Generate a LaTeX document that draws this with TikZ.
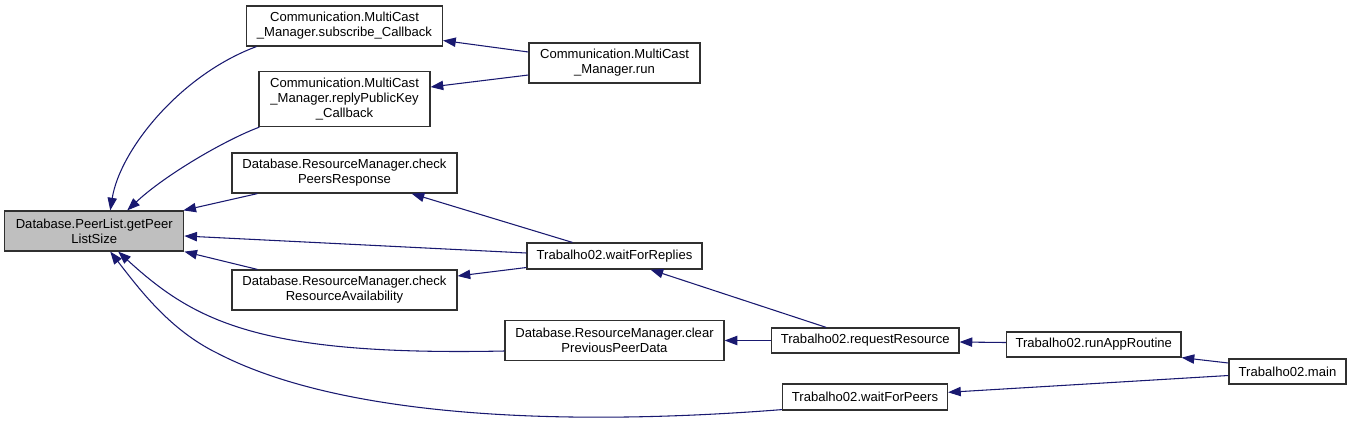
\documentclass[tikz,border=0pt]{standalone}
\usepackage{fontspec}
\setmainfont{Liberation Sans}
\usetikzlibrary{arrows.meta,calc}
\definecolor{edgeblue}{HTML}{191970}
\definecolor{boxgray}{HTML}{BFBFBF}
\definecolor{boxline}{HTML}{303030}
\begin{document}
\begin{tikzpicture}[x=0.75pt,y=-0.75pt,
  box/.style={draw=boxline,line width=0.9pt,fill=white,inner sep=0pt,align=center,
    font=\fontsize{9.8}{11.25}\selectfont},
  edge/.style={draw=edgeblue,line width=0.8pt,-{Triangle[length=9.5pt,width=7pt]}}]
\useasboundingbox (0,0) rectangle (1352,426);
% nodes
\node[box,fill=boxgray,minimum width=134.25pt,minimum height=30pt] (gp) at (94.25,231) {Database.PeerList.getPeer\\ListSize};
\node[box,minimum width=147pt,minimum height=30pt] (sub) at (344.5,26) {Communication.MultiCast\\\_Manager.subscribe\_Callback};
\node[box,minimum width=128.25pt,minimum height=41.25pt] (rep) at (344.5,99) {Communication.MultiCast\\\_Manager.replyPublicKey\\\_Callback};
\node[box,minimum width=168.75pt,minimum height=30pt] (cpr) at (344.5,173) {Database.ResourceManager.check\\PeersResponse};
\node[box,minimum width=168.75pt,minimum height=30pt] (cra) at (344.5,290) {Database.ResourceManager.check\\ResourceAvailability};
\node[box,minimum width=128.25pt,minimum height=30pt] (run) at (614.5,63) {Communication.MultiCast\\\_Manager.run};
\node[box,minimum width=131.25pt,minimum height=19.5pt] (wfr) at (614.5,256) {Trabalho02.waitForReplies};
\node[box,minimum width=164.25pt,minimum height=30pt] (cpd) at (614.5,340.5) {Database.ResourceManager.clear\\PreviousPeerData};
\node[box,minimum width=140.6pt,minimum height=18.75pt] (rr) at (865.25,340.5) {Trabalho02.requestResource};
\node[box,minimum width=123.75pt,minimum height=19.5pt] (wfp) at (865,397) {Trabalho02.waitForPeers};
\node[box,minimum width=130.9pt,minimum height=18.75pt] (ra) at (1093.75,344.5) {Trabalho02.runAppRoutine};
\node[box,minimum width=87.75pt,minimum height=18.75pt] (mn) at (1287.5,371.5) {Trabalho02.main};
% edges
\draw[edge] ($(run.west)+(0,-11)$) -- ($(sub.east)+(0,14.5)$);
\draw[edge] ($(run.west)+(0,12)$) -- ($(rep.east)+(0,-12)$);
\draw[edge] ($(sub.south west)+(10.5,0)$) .. controls (180,75) and (120,150) .. ($(gp.north)+(16,0)$);
\draw[edge] ($(rep.south west)+(1,0)$) .. controls (225,140) and (165,175) .. ($(gp.north)+(33,0)$);
\draw[edge] ($(cpr.south west)+(26,0)$) -- ($(gp.north east)+(-1,0)$);
\draw[edge] ($(wfr.west)+(0,-3)$) -- ($(gp.east)+(0,5)$);
\draw[edge] ($(cra.north west)+(26,0)$) -- (gp.south east);
\draw[edge] ($(cpd.west)+(0,10.5)$) .. controls (260,356) and (195,322) .. ($(gp.south)+(24,0)$);
\draw[edge] ($(wfp.south west)+(0,-1)$) .. controls (560,427) and (340,417) .. (217,353) .. controls (170,330) and (140,290) .. ($(gp.south)+(16,0)$);
\draw[edge] ($(wfr.north west)+(46,0)$) -- ($(cpr.south east)+(-46,0)$);
\draw[edge] ($(wfr.west)+(0,11.5)$) -- ($(cra.east)+(0,-14)$);
\draw[edge] ($(rr.north)+(-39,0)$) -- ($(wfr.south)+(36,0)$);
\draw[edge] (rr.west) -- (cpd.east);
\draw[edge] ($(ra.west)+(0,-2)$) -- ($(rr.east)+(0,1.5)$);
\draw[edge] ($(mn.west)+(0,-8.5)$) -- (ra.south east);
\draw[edge] ($(mn.west)+(0,4)$) -- ($(wfp.east)+(0,-4.7)$);
\end{tikzpicture}
\end{document}
